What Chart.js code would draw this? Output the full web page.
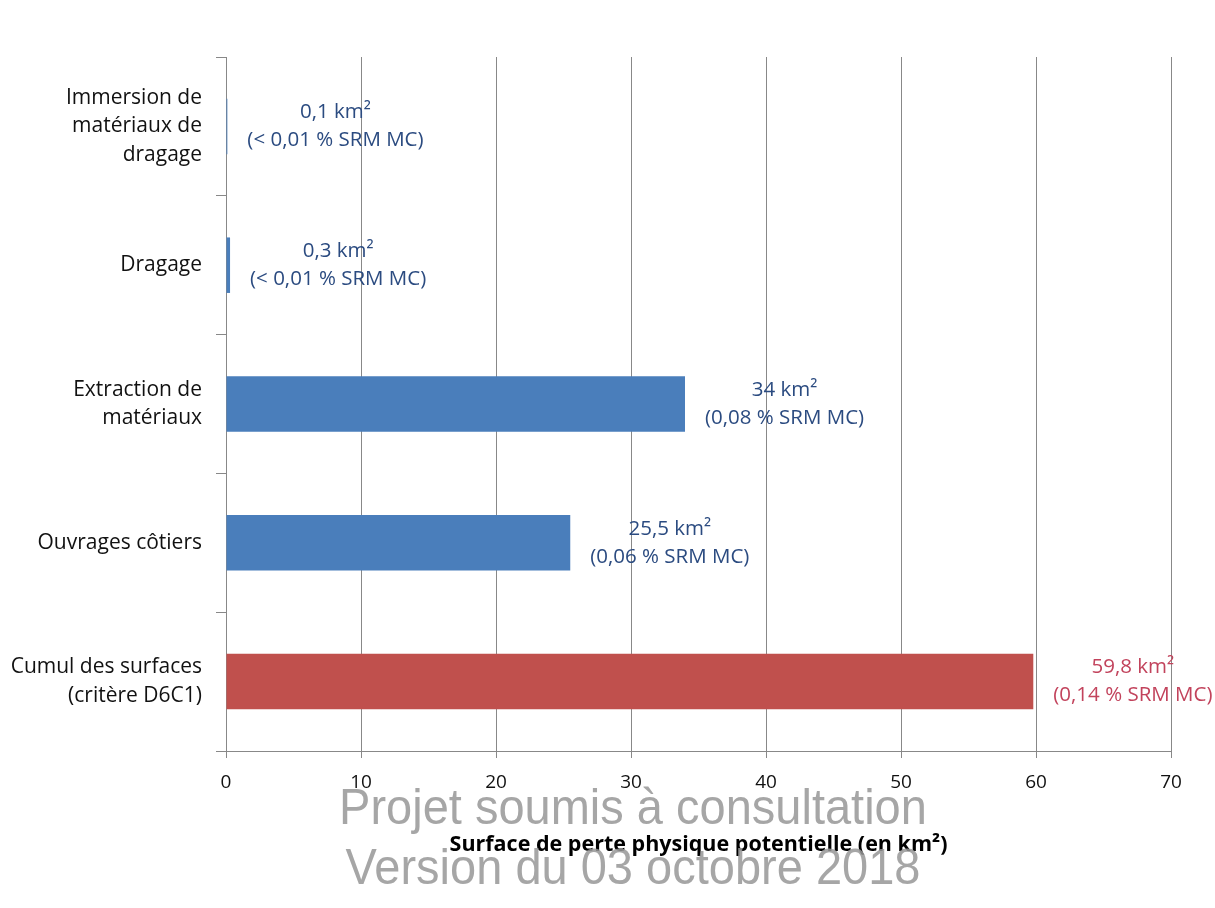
<!DOCTYPE html>
<html>
<head>
<meta charset="utf-8">
<script src="https://cdn.jsdelivr.net/npm/chart.js@4/dist/chart.umd.min.js"></script>
<style>
  html, body { margin: 0; padding: 0; background: #fff; }
  #wrap { width: 1215px; height: 908px; }
</style>
</head>
<body>
<div id="wrap"><canvas id="canvas" width="1215" height="908"></canvas></div>
<script>
var categories = [
  ["Immersion de", "matériaux de", "dragage"],
  ["Dragage"],
  ["Extraction de", "matériaux"],
  ["Ouvrages côtiers"],
  ["Cumul des surfaces", "(critère D6C1)"]
];
var surfaces = [0.1, 0.3, 34, 25.5, 59.8];
var valueLabels = [
  ["0,1 km²", "(< 0,01 % SRM MC)"],
  ["0,3 km²", "(< 0,01 % SRM MC)"],
  ["34 km²", "(0,08 % SRM MC)"],
  ["25,5 km²", "(0,06 % SRM MC)"],
  ["59,8 km²", "(0,14 % SRM MC)"]
];
var xTicks = [0, 10, 20, 30, 40, 50, 60, 70];
var axisTitle = "Surface de perte physique potentielle (en km²)";
var watermark = ["Projet soumis à consultation", "Version du 03 octobre 2018"];

var barColors = ["#4a7ebb", "#4a7ebb", "#4a7ebb", "#4a7ebb", "#c0504d"];
var labelColors = ["#2b4b80", "#2b4b80", "#2b4b80", "#2b4b80", "#c2435c"];
var font = "'Open Sans', sans-serif";

// labels de valeurs à droite des barres
var valueLabelPlugin = {
  id: "valueLabels",
  afterDatasetsDraw: function(chart) {
    var ctx = chart.ctx;
    var meta = chart.getDatasetMeta(0);
    ctx.save();
    ctx.font = "20.5px " + font;
    ctx.textAlign = "center";
    ctx.textBaseline = "middle";
    meta.data.forEach(function(bar, i) {
      var lines = valueLabels[i];
      var w = Math.max.apply(null, lines.map(function(l) { return ctx.measureText(l).width; }));
      var cx = Math.min(bar.x + 20 + w / 2, chart.width - 2 - w / 2);
      ctx.fillStyle = labelColors[i];
      ctx.fillText(lines[0], cx, bar.y - 14);
      ctx.fillText(lines[1], cx, bar.y + 14);
    });
    ctx.restore();
  }
};

// filigrane par-dessus le titre de l'axe
var watermarkPlugin = {
  id: "watermark",
  afterDraw: function(chart) {
    var ctx = chart.ctx;
    ctx.save();
    ctx.font = "47px 'Liberation Sans', Arial, sans-serif";
    ctx.fillStyle = "rgba(150,150,150,0.85)";
    ctx.textAlign = "center";
    ctx.textBaseline = "alphabetic";
    ctx.translate(633, 0);
    ctx.scale(1, 1.08);
    ctx.fillText(watermark[0], 0, 824 / 1.08);
    ctx.fillText(watermark[1], 0, 884 / 1.08);
    ctx.restore();
  }
};

var config = {
  type: "bar",
  data: {
    labels: categories,
    datasets: [
      {
        data: surfaces,
        backgroundColor: barColors,
        borderWidth: 0,
        barPercentage: 0.4,
        categoryPercentage: 1
      }
    ]
  },
  options: {
    indexAxis: "y",
    responsive: false,
    animation: false,
    layout: { padding: { left: 0, top: 57, right: 44, bottom: 0 } },
    plugins: {
      legend: { display: false },
      tooltip: { enabled: false }
    },
    scales: {
      x: {
        min: 0,
        max: 70,
        afterBuildTicks: function(scale) {
          scale.ticks = xTicks.map(function(v) { return { value: v }; });
        },
        afterFit: function(scale) { scale.height = 157; },
        grid: { color: "#888", lineWidth: 1, tickLength: 7, drawTicks: true },
        border: { color: "#888", width: 1 },
        ticks: { color: "#111", font: { family: font, size: 19 }, padding: 13 },
        title: {
          display: true,
          text: axisTitle,
          color: "#000",
          font: { family: font, size: 21.5, weight: "bold" },
          padding: { top: 0, bottom: 50 }
        }
      },
      y: {
        afterFit: function(scale) { scale.width = 226; },
        grid: { drawOnChartArea: false, color: "#888", tickLength: 10, offset: true },
        border: { color: "#888", width: 1 },
        ticks: {
          color: "#111",
          font: { family: font, size: 21, lineHeight: 1.35 },
          padding: 14
        }
      }
    }
  },
  plugins: [valueLabelPlugin, watermarkPlugin]
};

window.onload = function() {
  var ctx = document.getElementById("canvas").getContext("2d");
  window.myBar = new Chart(ctx, config);
};
</script>
</body>
</html>
